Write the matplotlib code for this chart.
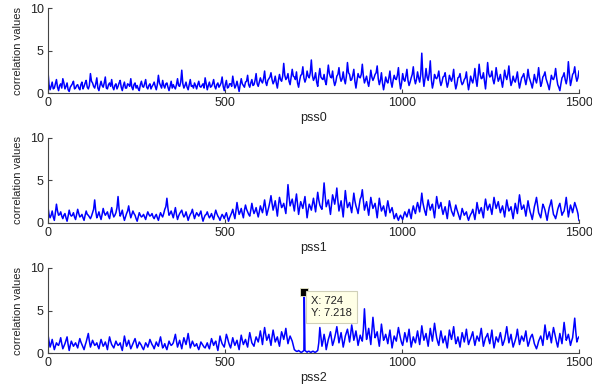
import numpy as np
import matplotlib.pyplot as plt

plt.rcParams['font.family'] = ['Liberation Sans', 'DejaVu Sans']

# correlation output of the three PSS sequences
# *_main: samples at 0, 6, ..., 1500   *_mid: samples at 3, 9, ..., 1497
pss0_main = [
    2.6, 0.4, 1.3, 0.6, 1.6, 0.3, 1.1, 1.7, 0.5, 1.2, 0.2, 0.9, 1.4, 0.6, 1.0, 0.4, 1.3, 0.8, 1.5, 0.5, 2.3, 1.2, 0.6, 1.8, 0.3,
    1.4, 0.7, 1.9, 0.5, 1.2, 1.6, 0.4, 1.1, 0.8, 1.5, 0.3, 1.3, 0.6, 1.0, 1.7, 0.4, 1.2, 0.9, 0.3, 1.4, 0.7, 1.6, 0.5, 1.1, 0.8,
    1.3, 0.4, 2.1, 0.9, 1.5, 0.6, 1.2, 0.3, 1.4, 1.0, 0.5, 1.7, 0.8, 2.7, 0.6, 1.3, 0.4, 1.6, 0.9, 1.2, 0.5, 1.4, 0.7, 1.1, 1.8,
    0.4, 1.3, 0.8, 1.6, 0.5, 1.2, 0.9, 1.9, 0.3, 1.5, 0.7, 1.1, 2.0, 0.6, 1.4, 0.2, 1.7, 0.9, 1.3, 2.1, 0.7, 1.6, 1.0, 2.3, 0.8,
    1.8, 1.2, 2.6, 0.9, 1.7, 2.4, 1.1, 2.0, 0.6, 2.2, 1.4, 3.5, 1.6, 2.3, 1.0, 2.8, 1.9, 2.5, 0.7, 2.1, 3.1, 1.3, 2.6, 1.8, 3.9,
    1.5, 2.4, 0.8, 2.9, 1.7, 2.2, 1.0, 3.3, 1.9, 2.6, 0.9, 2.0, 3.0, 1.4, 2.5, 1.1, 3.6, 2.2, 1.6, 2.8, 0.6, 2.3, 1.8, 3.4, 1.2,
    2.0, 0.8, 2.7, 1.5, 2.2, 3.2, 1.0, 2.4, 0.4, 1.9, 1.2, 2.6, 0.7, 2.1, 1.6, 3.0, 0.5, 2.3, 1.4, 2.8, 0.9, 1.8, 3.1, 1.1, 2.5,
    1.3, 4.7, 0.8, 2.9, 1.5, 3.8, 0.6, 2.2, 1.7, 2.6, 0.9, 1.9, 2.4, 0.7, 2.1, 1.4, 2.8, 0.5, 1.8, 2.3, 1.0, 1.6, 2.5, 0.4, 2.0,
    1.2, 2.9, 0.8, 3.4, 1.7, 2.4, 0.5, 3.6, 1.9, 2.6, 1.1, 3.0, 1.4, 2.2, 0.7, 2.7, 1.6, 3.2, 0.9, 2.0, 1.3, 2.5, 0.6, 1.8, 2.3,
    1.0, 2.8, 1.5, 0.6, 2.2, 1.2, 3.0, 0.8, 1.9, 2.5, 1.3, 0.4, 2.1, 1.6, 2.9, 1.0, 0.3, 1.8, 2.4, 1.1, 3.7, 0.9, 2.2, 3.1, 1.4,
    2.6,
]
pss0_mid = [
    1.0, 0.8, 0.5, 1.1, 0.7, 0.9, 0.6, 1.2, 0.8, 0.4, 0.7, 1.1, 0.5, 0.9, 0.6, 1.0, 0.5, 1.2, 0.7, 0.9, 1.4, 0.8, 1.1, 0.6, 0.9,
    0.9, 1.2, 0.6, 1.0, 0.8, 0.7, 0.9, 0.5, 1.2, 0.7, 0.9, 0.6, 1.1, 0.8, 0.7, 1.0, 0.6, 0.5, 1.0, 0.8, 1.1, 0.7, 0.9, 0.5, 1.0,
    0.8, 1.0, 1.2, 0.6, 0.9, 1.1, 0.7, 0.8, 0.6, 0.7, 1.0, 0.9, 1.3, 1.1, 0.9, 0.7, 1.0, 0.8, 0.6, 0.9, 1.0, 0.8, 0.9, 0.6, 1.1,
    0.9, 0.7, 1.1, 0.8, 1.0, 0.7, 1.2, 0.8, 1.0, 0.6, 1.1, 0.8, 1.2, 0.9, 0.8, 1.0, 1.1, 0.7, 1.4, 1.0, 1.2, 0.9, 1.5, 1.1, 1.3,
    1.4, 1.7, 1.3, 1.5, 1.9, 1.6, 1.4, 1.2, 1.5, 1.6, 2.0, 2.1, 1.8, 1.4, 1.9, 2.0, 1.6, 1.2, 1.5, 2.2, 1.8, 1.7, 2.0, 2.4, 2.1,
    1.8, 1.3, 2.0, 1.9, 1.6, 1.4, 2.1, 2.3, 1.8, 1.5, 1.3, 2.2, 1.9, 1.7, 1.6, 2.0, 2.4, 1.5, 2.1, 1.4, 1.5, 1.9, 2.2, 2.0, 1.6,
    1.3, 1.6, 1.9, 1.8, 2.4, 1.7, 1.5, 1.2, 1.1, 1.4, 1.8, 1.3, 1.5, 1.7, 2.1, 1.4, 1.2, 1.6, 2.0, 1.5, 1.3, 2.2, 1.7, 1.6, 1.8,
    2.2, 2.0, 1.7, 1.9, 2.3, 1.6, 1.2, 1.8, 2.0, 1.5, 1.3, 2.0, 1.4, 1.2, 1.7, 1.9, 1.3, 1.0, 1.9, 1.4, 1.2, 1.8, 1.3, 1.1, 1.5,
    1.9, 1.6, 2.0, 2.2, 1.8, 1.4, 1.9, 2.3, 2.0, 1.6, 1.8, 2.1, 1.7, 1.4, 1.6, 2.0, 2.2, 1.8, 1.3, 1.5, 1.8, 1.4, 1.2, 2.0, 1.6,
    1.7, 1.9, 1.1, 1.3, 1.6, 1.9, 1.8, 1.2, 2.1, 1.7, 0.9, 1.2, 1.7, 2.0, 1.8, 0.7, 1.1, 2.0, 1.6, 1.8, 2.2, 1.5, 2.4, 2.0, 1.8,
]
pss1_main = [
    1.9, 0.6, 1.4, 0.3, 2.2, 0.9, 1.3, 0.5, 1.1, 0.2, 1.5, 0.8, 1.2, 0.4, 1.6, 0.7, 1.0, 0.3, 1.4, 0.9, 0.5, 1.2, 2.7, 0.6, 1.3,
    0.4, 1.7, 0.9, 1.3, 0.5, 1.8, 0.7, 1.2, 3.1, 0.8, 1.5, 0.3, 1.1, 2.0, 0.6, 1.4, 0.9, 0.2, 1.2, 0.7, 1.0, 0.4, 1.3, 0.8, 1.1,
    0.5, 1.0, 0.3, 1.2, 0.7, 1.6, 2.9, 0.9, 1.4, 0.6, 1.8, 0.4, 1.1, 1.5, 0.7, 1.3, 0.3, 1.0, 1.6, 0.5, 1.2, 0.8, 1.4, 0.2, 0.9,
    1.3, 0.6, 1.1, 0.4, 1.5, 0.8, 0.3, 1.0, 0.5, 1.2, 0.2, 0.9, 1.6, 0.5, 2.4, 1.0, 1.7, 0.6, 2.1, 1.3, 0.8, 2.3, 1.1, 1.8, 0.7,
    2.0, 1.2, 2.7, 0.9, 1.9, 3.2, 1.5, 2.6, 0.8, 3.0, 1.8, 2.3, 1.1, 4.5, 2.0, 2.8, 1.4, 3.4, 1.0, 2.5, 1.7, 3.1, 0.6, 2.2, 1.5,
    2.9, 1.3, 3.6, 2.1, 1.6, 4.7, 1.9, 2.7, 1.0, 3.3, 2.2, 4.1, 1.4, 2.6, 0.7, 3.8, 1.8, 2.4, 1.2, 3.5, 2.0, 1.1, 2.8, 3.9, 1.5,
    2.5, 0.9, 3.0, 1.7, 2.3, 0.6, 2.9, 1.4, 2.0, 0.8, 2.6, 1.2, 1.8, 0.5, 1.1, 0.3, 0.9, 0.4, 1.3, 0.7, 1.6, 0.5, 2.0, 1.1, 2.4,
    1.3, 3.5, 1.8, 0.9, 2.7, 1.5, 2.2, 0.6, 3.1, 1.7, 2.4, 1.0, 1.9, 0.5, 2.6, 1.4, 0.8, 2.1, 1.2, 0.4, 1.7, 0.9, 1.3, 0.3, 1.0,
    1.6, 0.4, 2.4, 1.1, 1.8, 0.6, 2.8, 1.5, 2.2, 1.0, 3.0, 1.7, 2.5, 1.2, 2.0, 0.7, 2.7, 1.4, 1.9, 0.5, 2.3, 1.1, 3.3, 1.6, 2.1,
    0.8, 2.6, 1.3, 0.4, 1.9, 3.0, 1.2, 0.6, 2.2, 1.5, 0.3, 1.8, 2.7, 1.0, 0.5, 1.6, 2.3, 0.9, 1.4, 3.0, 0.7, 2.1, 1.2, 2.4, 1.6,
    0.3,
]
pss1_mid = [
    1.0, 0.9, 0.7, 1.2, 1.4, 1.0, 0.8, 0.9, 0.6, 0.8, 1.0, 0.9, 0.7, 1.0, 1.1, 0.8, 0.6, 0.9, 1.0, 0.7, 0.8, 1.6, 1.4, 0.9, 0.8,
    1.0, 1.2, 1.1, 0.8, 1.2, 1.1, 0.9, 1.8, 1.6, 1.1, 0.8, 0.7, 1.4, 1.2, 1.0, 1.1, 0.5, 0.7, 0.9, 0.8, 0.7, 0.9, 1.0, 0.9, 0.7,
    0.8, 0.6, 0.8, 0.9, 1.1, 1.9, 1.7, 1.1, 1.0, 1.2, 1.0, 0.8, 1.3, 1.0, 0.9, 0.8, 0.7, 1.2, 1.0, 0.9, 1.0, 1.1, 0.7, 0.6, 1.0,
    0.9, 0.8, 0.7, 1.0, 1.1, 0.6, 0.7, 0.8, 0.9, 0.7, 0.6, 1.2, 1.0, 1.4, 1.6, 1.3, 1.1, 1.5, 1.6, 1.0, 1.5, 1.6, 1.4, 1.2, 1.3,
    1.6, 1.9, 1.8, 1.4, 2.5, 2.3, 2.0, 1.7, 2.0, 2.4, 2.0, 1.7, 2.6, 3.1, 2.4, 2.1, 2.5, 2.2, 1.8, 2.1, 2.4, 1.9, 1.5, 1.9, 2.2,
    2.1, 2.5, 2.7, 1.8, 3.0, 3.2, 2.3, 1.9, 2.1, 2.8, 3.0, 2.6, 2.0, 1.7, 2.2, 2.7, 2.1, 1.8, 2.4, 2.6, 1.6, 2.0, 3.1, 2.6, 2.0,
    1.7, 2.0, 2.3, 2.0, 1.5, 1.8, 2.1, 1.7, 1.4, 1.8, 1.9, 1.5, 1.2, 0.8, 0.6, 0.7, 0.6, 0.9, 1.0, 1.2, 1.0, 1.4, 1.5, 1.8, 1.9,
    2.3, 2.4, 1.3, 1.9, 2.0, 1.9, 1.4, 1.8, 2.3, 2.0, 1.6, 1.5, 1.2, 1.6, 2.0, 1.1, 1.5, 1.6, 0.8, 1.0, 1.3, 1.1, 0.7, 0.7, 1.2,
    1.0, 1.3, 1.7, 1.5, 1.2, 1.8, 2.1, 1.9, 1.6, 2.0, 2.3, 2.1, 1.8, 1.6, 1.4, 1.7, 2.0, 1.6, 1.2, 1.4, 1.7, 2.2, 2.4, 1.8, 1.5,
    1.7, 1.9, 0.9, 1.1, 2.4, 2.1, 0.9, 1.4, 1.9, 0.9, 1.1, 2.2, 1.8, 0.8, 1.0, 2.0, 1.6, 1.2, 2.1, 1.9, 1.4, 1.7, 1.8, 2.0, 1.1,
]
pss2_main = [
    2.2, 0.7, 1.6, 0.4, 1.2, 0.9, 1.8, 0.5, 1.1, 1.9, 0.3, 1.4, 0.8, 1.2, 0.6, 1.7, 1.0, 0.4, 1.3, 2.3, 0.7, 1.5, 0.9, 1.2, 0.5,
    1.6, 0.8, 1.3, 0.4, 1.9, 1.0, 0.6, 1.4, 0.9, 1.2, 0.3, 2.0, 0.8, 1.5, 0.5, 1.1, 1.7, 0.6, 1.3, 0.9, 0.4, 1.2, 0.7, 1.6, 1.0,
    0.5, 1.3, 0.8, 1.9, 0.6, 1.1, 0.4, 1.4, 0.9, 1.2, 2.2, 0.7, 1.5, 0.5, 1.8, 1.0, 2.3, 0.6, 1.4, 0.8, 1.1, 0.4, 1.3, 0.9, 0.6,
    1.2, 0.5, 1.7, 0.9, 1.4, 0.3, 2.0, 1.1, 0.7, 2.2, 1.3, 0.6, 1.8, 0.9, 1.5, 0.4, 2.1, 1.0, 1.6, 0.7, 2.4, 1.2, 0.8, 1.9, 1.3,
    2.6, 1.0, 3.0, 1.5, 2.2, 0.9, 2.7, 1.3, 1.9, 0.8, 2.5, 1.6, 2.9, 1.1, 2.0, 1.4, 0.4, 0.2, 0.3, 0.1, 0.2, 0.3, 0.1, 0.2, 0.1,
    0.2, 0.1, 0.3, 3.0, 0.8, 2.2, 0.4, 1.6, 2.5, 0.9, 1.8, 3.1, 1.2, 2.4, 0.7, 2.0, 2.8, 1.3, 3.3, 1.5, 2.6, 0.9, 2.1, 1.4, 5.2,
    1.6, 2.9, 1.0, 4.2, 1.8, 2.5, 0.8, 3.4, 1.5, 2.2, 1.1, 2.7, 0.6, 2.0, 1.4, 3.0, 1.7, 0.9, 2.4, 1.3, 2.8, 0.7, 1.9, 1.2, 2.6,
    1.0, 3.2, 1.5, 2.3, 0.8, 2.9, 1.4, 3.5, 1.8, 0.9, 2.6, 1.2, 2.0, 0.6, 2.7, 1.6, 3.1, 1.1, 1.9, 0.7, 2.4, 1.3, 2.8, 1.0, 1.7,
    2.5, 0.9, 2.0, 1.4, 2.9, 0.8, 1.8, 2.3, 1.1, 2.7, 0.6, 1.9, 1.3, 2.4, 0.9, 1.6, 3.1, 1.2, 2.2, 0.7, 1.5, 2.8, 1.0, 2.0, 1.4,
    2.6, 0.8, 1.7, 2.2, 1.1, 0.5, 1.4, 2.0, 0.9, 3.3, 1.6, 2.5, 1.2, 3.0, 1.8, 0.7, 2.3, 1.1, 3.6, 1.5, 2.2, 0.9, 1.8, 4.1, 1.3,
    1.9,
]
pss2_mid = [
    1.4, 1.1, 1.0, 0.8, 1.0, 1.3, 1.1, 0.8, 1.5, 1.0, 0.9, 1.1, 1.0, 0.9, 1.2, 1.3, 0.7, 0.9, 1.8, 1.4, 1.1, 1.2, 1.0, 0.8, 1.1,
    1.2, 1.0, 0.9, 1.2, 1.4, 0.8, 1.0, 1.1, 1.0, 0.7, 1.1, 1.4, 1.1, 1.0, 0.8, 1.4, 1.2, 0.9, 1.1, 0.6, 0.8, 1.0, 1.1, 1.3, 0.8,
    0.9, 1.0, 1.4, 1.2, 0.8, 0.7, 0.9, 1.1, 1.0, 1.7, 1.4, 1.1, 1.0, 1.2, 1.4, 1.6, 1.5, 1.0, 1.1, 0.9, 0.7, 0.8, 1.1, 0.7, 0.9,
    0.8, 1.1, 1.3, 1.2, 0.8, 1.1, 1.5, 0.9, 1.4, 1.8, 0.9, 1.2, 1.3, 1.2, 0.9, 1.3, 1.5, 1.3, 1.1, 1.6, 1.8, 1.0, 1.4, 1.6, 1.9,
    1.8, 2.1, 2.2, 1.8, 1.5, 1.9, 2.0, 1.6, 1.3, 1.7, 2.1, 2.2, 1.9, 1.6, 1.7, 0.9, 0.3, 0.2, 0.2, 0.1, 0.3, 0.2, 0.2, 0.1, 0.2,
    0.1, 0.2, 1.2, 1.9, 1.4, 1.5, 1.0, 2.0, 1.7, 1.3, 2.4, 2.2, 1.8, 1.6, 1.3, 2.4, 2.1, 2.2, 2.5, 2.0, 1.8, 1.5, 1.7, 2.8, 3.1,
    2.2, 1.9, 2.6, 2.9, 2.1, 1.6, 2.0, 2.4, 1.8, 1.7, 1.9, 1.6, 1.3, 1.7, 2.2, 2.3, 1.2, 1.6, 1.9, 2.0, 1.7, 1.3, 1.5, 1.9, 1.8,
    2.0, 2.3, 1.9, 1.5, 1.9, 2.1, 2.4, 2.6, 1.3, 1.8, 1.9, 1.6, 1.2, 1.7, 2.1, 2.3, 2.0, 1.4, 1.3, 1.6, 1.9, 2.0, 1.8, 1.4, 2.1,
    1.6, 1.5, 1.7, 2.2, 1.8, 1.3, 2.0, 1.6, 1.9, 1.5, 1.2, 1.6, 1.9, 1.7, 1.2, 2.3, 2.1, 1.7, 1.4, 1.1, 2.0, 1.9, 1.5, 1.7, 2.0,
    1.6, 1.2, 2.0, 1.7, 0.8, 0.9, 1.7, 1.5, 2.1, 2.4, 2.0, 1.9, 2.2, 2.4, 1.2, 1.5, 1.7, 2.3, 2.6, 1.8, 1.6, 1.4, 2.9, 2.5, 1.7,
]
# detected peak on pss2 (data cursor)
peak_x = 724
peak_y = 7.218


def merge(main, mid):
    y = np.empty(len(main) + len(mid))
    y[0::2] = main
    y[1::2] = mid
    return y


x = np.linspace(0, 1500, len(pss0_main) + len(pss0_mid))
y0 = merge(pss0_main, pss0_mid)
y1 = merge(pss1_main, pss1_mid)
y2 = merge(pss2_main, pss2_mid)

# put the peak sample into pss2 at its position
k = np.searchsorted(x, peak_x)
x2 = np.insert(x, k, peak_x)
y2 = np.insert(y2, k, peak_y)

series = [(x, y0, 'pss0'), (x, y1, 'pss1'), (x2, y2, 'pss2')]
bottoms = [0.758, 0.421, 0.083]

fig = plt.figure(figsize=(5.92, 3.85), dpi=100)
axes = []
for (xs, ys, name), b in zip(series, bottoms):
    ax = fig.add_axes([0.081, b, 0.897, 0.221])
    ax.plot(xs, ys, color='#0000ff', linewidth=1.1)
    ax.set_xlim(0, 1500)
    ax.set_ylim(0, 10)
    ax.set_xticks([0, 500, 1000, 1500])
    ax.set_yticks([0, 5, 10])
    ax.spines['top'].set_visible(False)
    ax.spines['right'].set_visible(False)
    ax.spines['left'].set_color('#444444')
    ax.spines['bottom'].set_color('#444444')
    ax.tick_params(direction='in', length=3, width=0.8, colors='#444444',
                   labelcolor='#222222', labelsize=9, pad=3)
    ax.set_xlabel(name, fontsize=9, color='#222222', labelpad=2)
    ax.set_ylabel('correlation values', fontsize=8, color='#222222', labelpad=5)
    axes.append(ax)

ax = axes[2]
ax.plot(peak_x, peak_y, marker='s', color='black', markeredgecolor='#e8e8c8',
        markeredgewidth=0.6, markersize=6)
ax.annotate(f'X: {peak_x}\nY: {peak_y}', xy=(peak_x, peak_y), xytext=(5, -3),
            textcoords='offset points', ha='left', va='top', fontsize=8,
            color='#222222', linespacing=1.25,
            bbox=dict(boxstyle='square,pad=0.45', fc='#ffffe6', ec='#d0d0b8', lw=0.8))

fig.savefig('out.png', dpi=100)
